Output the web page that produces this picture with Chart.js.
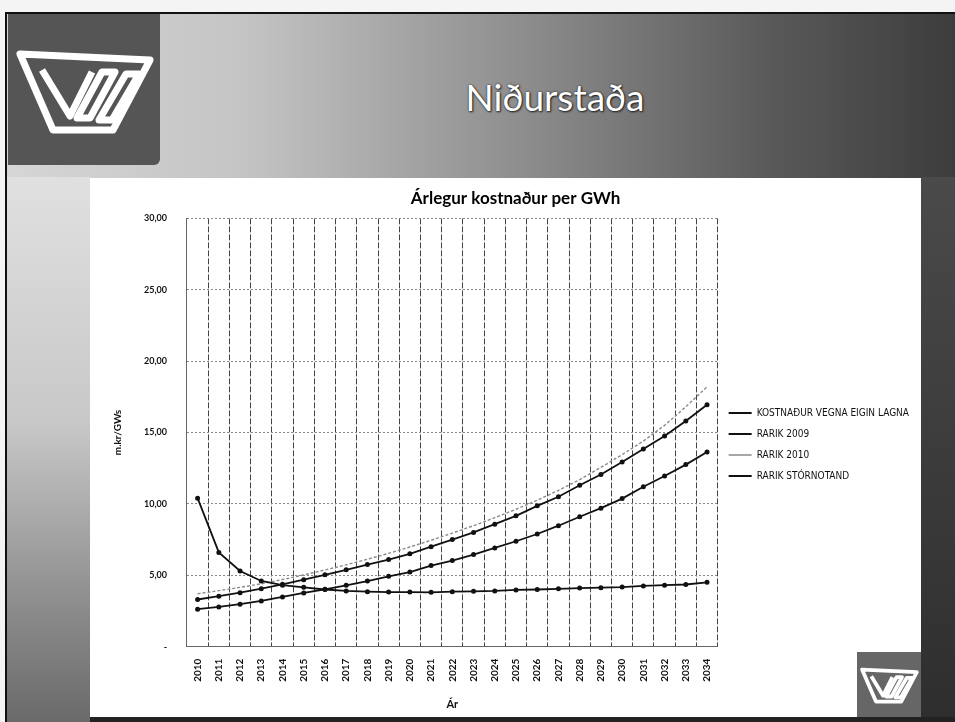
<!DOCTYPE html>
<html>
<head>
<meta charset="utf-8">
<script src="https://cdn.jsdelivr.net/npm/chart.js@4/dist/chart.umd.min.js"></script>
<style>
  html, body { margin: 0; padding: 0; }
  body { width: 955px; height: 722px; position: relative; overflow: hidden; background: #f4f4f4; }
  .page { position: absolute; left: 5px; top: 12px; width: 950px; height: 710px; border-left: 2px solid #111; border-top: 2px solid #111;
          background: linear-gradient(90deg, #d6d6d6 0%, #c4c4c4 25%, #8c8c8c 55%, #5a5a5a 80%, #3c3c3c 100%); }
  .leftstrip { position: absolute; left: 7px; top: 177px; width: 83px; height: 545px;
          background: linear-gradient(180deg, #e0e0e0 0%, #c8c8c8 45%, #8a8a8a 80%, #6a6a6a 100%); }
  .rightstrip { position: absolute; left: 921px; top: 177px; width: 34px; height: 545px; background: linear-gradient(180deg, #4a4a4a, #2e2e2e); }
  .logo { position: absolute; left: 8px; top: 14px; width: 152px; height: 151px; background: #555; border-radius: 0 0 6px 0; }
  .heading { position: absolute; left: 380px; top: 72px; width: 350px; text-align: center; color: #fff;
          font-family: Lato, "Open Sans", sans-serif; font-size: 37px; line-height: 50px;
          text-shadow: 0 0 2px #222, 1px 1px 2px #222; }
  .box { position: absolute; left: 90px; top: 178px; width: 831px; height: 539px; background: #fff; }
  .bottomline { position: absolute; left: 90px; top: 717px; width: 865px; height: 5px; background: #222; }
  .minilogo { position: absolute; left: 857px; top: 652px; width: 64px; height: 65px; background: #666; }
  canvas { position: absolute; left: 0; top: 0; }
</style>
</head>
<body>
<div class="page"></div>
<div class="leftstrip"></div>
<div class="rightstrip"></div>
<div class="logo">
  <svg width="152" height="151" viewBox="0 0 152 151">
    <g fill="none" stroke="#fff" stroke-width="7" stroke-linejoin="round">
      <polygon points="12,40 142,46 105,116 45,116"/>
      <polyline points="34,56 62,102 84,58"/>
      <polygon points="94,58 107,58 82,104 69,104"/>
      <polygon points="118,60 131,60 104,106 91,106"/>
    </g>
  </svg>
</div>
<div class="heading">Niðurstaða</div>
<div class="box">
  <canvas id="chart" width="831" height="539"></canvas>
</div>
<div class="bottomline"></div>
<div class="minilogo">
  <svg width="64" height="65" viewBox="0 0 152 151">
    <g fill="none" stroke="#fff" stroke-width="9" stroke-linejoin="round">
      <polygon points="12,40 142,46 105,116 45,116"/>
      <polyline points="34,56 62,102 84,58"/>
      <polygon points="94,58 107,58 82,104 69,104"/>
      <polygon points="118,60 131,60 104,106 91,106"/>
    </g>
  </svg>
</div>
<script>
const years = ["2010", "2011", "2012", "2013", "2014", "2015", "2016", "2017", "2018", "2019", "2020", "2021",
  "2022", "2023", "2024", "2025", "2026", "2027", "2028", "2029", "2030", "2031", "2032", "2033", "2034"]

const kostnadurEiginLagna = [10.4, 6.6, 5.3, 4.6, 4.3, 4.15, 4.0, 3.9, 3.85, 3.82, 3.82, 3.8, 3.85, 3.87, 3.9,
  3.97, 4.0, 4.05, 4.1, 4.13, 4.17, 4.25, 4.3, 4.35, 4.5]
const rarik2009 = [3.3, 3.53, 3.78, 4.06, 4.36, 4.69, 5.03, 5.38, 5.75, 6.1, 6.5, 7.0, 7.5, 8.0, 8.58,
  9.16, 9.86, 10.5, 11.3, 12.06, 12.94, 13.85, 14.75, 15.8, 16.95]
const rarik2010 = [3.7, 3.92, 4.15, 4.4, 4.7, 5.02, 5.37, 5.73, 6.12, 6.53, 6.98, 7.45, 7.95, 8.47, 9.03,
  9.62, 10.25, 10.95, 11.7, 12.55, 13.45, 14.4, 15.5, 16.8, 18.2]
const rarikStornotand = [2.62, 2.78, 2.97, 3.2, 3.48, 3.76, 4.01, 4.29, 4.59, 4.92, 5.22, 5.68, 6.03, 6.45, 6.91,
  7.38, 7.89, 8.47, 9.1, 9.7, 10.37, 11.2, 11.95, 12.75, 13.64]

const seriesNames = ["KOSTNAÐUR VEGNA EIGIN LAGNA", "RARIK 2009", "RARIK 2010", "RARIK STÓRNOTAND"]

const font = "Lato, 'Open Sans', sans-serif"
const narrow = "'Liberation Sans Narrow', 'DejaVu Sans Condensed', Lato, sans-serif"

function solid(label, data) {
  return {
    label: label,
    data: data,
    borderColor: "#111",
    backgroundColor: "#111",
    borderWidth: 1.8,
    pointRadius: 1.6,
    pointStyle: "circle",
    tension: 0,
  }
}

const ctx = document.getElementById("chart")

new Chart(ctx, {
  type: "line",
  data: {
    labels: years,
    datasets: [
      solid(seriesNames[0], kostnadurEiginLagna),
      solid(seriesNames[1], rarik2009),
      {
        label: seriesNames[2],
        data: rarik2010,
        borderColor: "#8a8a8a",
        backgroundColor: "#8a8a8a",
        borderWidth: 1.4,
        borderDash: [3, 2],
        pointRadius: 0,
        tension: 0,
      },
      solid(seriesNames[3], rarikStornotand),
    ],
  },
  options: {
    responsive: false,
    animation: false,
    layout: {
      padding: { left: 22, right: 2, top: 0, bottom: 6 }
    },
    plugins: {
      tooltip: { enabled: false },
      title: {
        display: true,
        text: "Árlegur kostnaður per GWh",
        color: "#000",
        font: { family: font, size: 17, weight: "bold" },
        padding: { top: 10, bottom: 10 },
      },
      legend: {
        position: "right",
        labels: {
          usePointStyle: true,
          pointStyle: "line",
          pointStyleWidth: 23,
          boxHeight: 8,
          padding: 11,
          color: "#111",
          font: { family: narrow, size: 10 },
        },
      },
    },
    scales: {
      x: {
        offset: true,
        grid: { offset: true, color: "#444", drawTicks: false },
        border: { color: "#666", dash: [6, 2] },
        ticks: {
          minRotation: 90,
          maxRotation: 90,
          padding: 12,
          color: "#111",
          font: { family: font, size: 10, weight: "bold" },
        },
        title: {
          display: true,
          text: "Ár",
          color: "#111",
          font: { family: font, size: 11, weight: "bold" },
          padding: { top: 4, bottom: 0 },
        },
      },
      y: {
        min: 0,
        max: 30,
        grid: { color: "#8a8a8a", drawTicks: false },
        border: { color: "#666", dash: [2, 2] },
        ticks: {
          stepSize: 5,
          padding: 20,
          color: "#111",
          font: { family: font, size: 9, weight: "bold" },
          callback: (value) => value === 0 ? "-" : value.toFixed(2).replace(".", ","),
        },
        title: {
          display: true,
          text: "m.kr/GWs",
          color: "#111",
          font: { family: font, size: 10, weight: "bold" },
          padding: { top: 0, bottom: 0 },
        },
      },
    },
  },
})
</script>
</body>
</html>
